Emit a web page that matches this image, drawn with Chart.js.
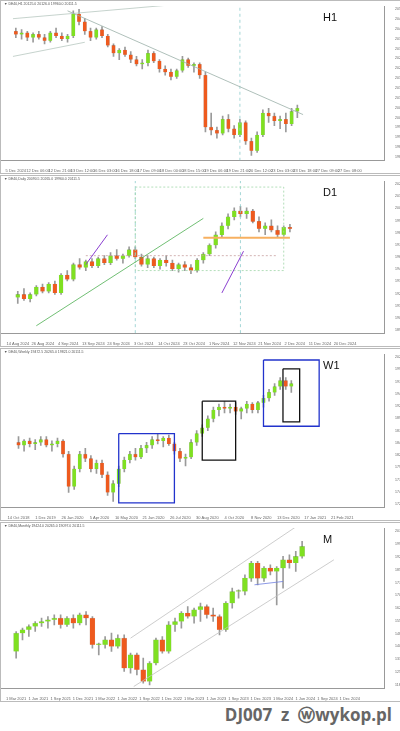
<!DOCTYPE html>
<html>
<head>
<meta charset="utf-8">
<script src="https://cdn.jsdelivr.net/npm/chart.js@4.4.0/dist/chart.umd.min.js"></script>
<style>
  body { margin:0; background:#fff; width:400px; height:731px; overflow:hidden; font-family:"DejaVu Sans",sans-serif; }
  .panel { position:absolute; left:0; width:399px; border:1px solid #bbb; background:#fff; }
  .panel canvas { position:absolute; left:0; top:0; }
  .tf { position:absolute; left:322px; top:10px; font:11px "Liberation Sans",sans-serif; color:#111; }
  .title { position:absolute; left:3px; top:1px; font:3.5px sans-serif; color:#555; white-space:nowrap; }
  .foot { position:absolute; right:8px; top:703px; font:bold 17px "Open Sans",sans-serif; color:#666; }
</style>
</head>
<body>
<div class="panel" style="top:0;height:172px"><canvas id="h1"></canvas><div class="title">▼ DE40,H1 20125.0 20126.0 19960.0 20111.5</div><div class="tf">H1</div></div>
<div class="panel" style="top:175px;height:170px"><canvas id="d1"></canvas><div class="title">▼ DE40,Daily 20090.5 20265.0 19960.0 20111.5</div><div class="tf">D1</div></div>
<div class="panel" style="top:348px;height:171px"><canvas id="w1"></canvas><div class="title">▼ DE40,Weekly 19472.5 20265.0 19821.0 20111.5</div><div class="tf">W1</div></div>
<div class="panel" style="top:522px;height:178px"><canvas id="mn"></canvas><div class="title">▼ DE40,Monthly 19424.0 20265.0 19097.0 20111.5</div><div class="tf">M</div></div>
<div class="foot">DJ007 &nbsp;z &nbsp;ⓦwykop.pl</div>
<script>
// candles [open, high, low, close] in chart units
const h1Candles = [[84,86,80,82],[82,85,79,83],[83,84,78,80],[80,83,77,82],[82,84,79,80],[80,82,76,78],[78,84,77,83],[83,86,80,81],[81,83,78,79],[79,82,77,81],
 [81,97,80,95],[95,98,88,90],[90,92,82,84],[84,86,78,80],[80,86,79,85],[85,87,80,81],[81,82,74,75],[75,76,68,70],[70,73,66,72],[72,74,68,69],
 [69,71,64,66],[66,68,62,63],[63,66,60,64],[64,72,62,70],[70,71,64,65],[65,66,58,60],[60,62,56,58],[58,60,53,55],[55,60,54,59],[59,68,58,66],
 [66,67,61,62],[62,64,58,63],[63,64,54,56],[56,58,20,23],[23,32,18,21],[21,23,16,19],[19,30,18,28],[28,31,20,22],[22,24,16,18],[18,28,17,26],
 [26,27,12,14],[14,16,5,8],[8,20,7,18],[18,34,17,32],[32,35,26,30],[30,32,24,27],[27,30,22,28],[28,32,20,25],[25,35,24,33],[33,37,29,35]];
const d1Candles = [[22,26,18,24],[24,28,20,21],[21,25,19,24],[24,30,23,29],[29,31,25,26],[26,32,25,31],[31,33,24,25],[25,38,24,37],[37,40,33,34],[34,45,33,44],
 [44,48,41,42],[42,47,40,46],[46,48,42,43],[43,49,42,48],[48,50,44,45],[45,52,44,50],[50,54,47,48],[48,51,45,50],[50,56,49,54],[54,56,48,49],
 [49,51,43,44],[44,50,42,48],[48,49,42,43],[43,48,41,47],[47,50,43,45],[45,47,40,41],[41,45,39,44],[44,46,40,42],[42,44,38,40],[40,48,39,47],
 [47,52,45,51],[51,58,50,57],[57,66,55,64],[64,72,62,70],[70,78,68,76],[76,82,74,80],[80,83,76,78],[78,82,75,80],[80,81,72,73],[73,76,66,68],
 [68,72,64,70],[70,74,66,67],[67,70,62,64],[64,70,63,69],[69,71,66,68]];
const w1Candles = [[46,50,42,44],[44,48,40,47],[47,49,43,45],[45,48,41,46],[46,50,44,48],[48,50,43,44],[44,47,40,45],[45,49,43,47],[47,48,36,38],[38,40,12,16],
 [16,30,14,28],[28,40,26,38],[38,42,33,35],[35,37,26,28],[28,34,25,32],[32,34,22,24],[24,26,10,12],[12,20,6,18],[18,30,16,28],[28,36,26,34],
 [34,40,32,38],[38,42,34,36],[36,44,35,42],[42,46,39,44],[44,50,42,48],[48,52,45,47],[47,50,43,49],[49,51,44,45],[45,46,38,40],[40,42,33,35],
 [35,38,30,36],[36,48,35,46],[46,54,44,52],[52,58,50,56],[56,64,54,62],[62,70,60,68],[68,72,64,70],[70,74,66,69],[69,72,66,70],[70,73,65,67],
 [67,70,62,69],[69,74,66,72],[72,73,66,68],[68,74,66,73],[73,78,70,76],[76,82,74,80],[80,86,78,84],[84,90,82,88],[88,90,82,84],[84,88,80,86]];
const mnCandles = [[26,38,22,37],[37,40,33,39],[39,42,35,41],[41,44,38,43],[43,46,41,44],[44,47,40,45],[45,48,42,46],[46,48,40,42],[42,47,41,46],[46,48,40,43],
 [43,49,42,48],[48,50,42,46],[46,47,28,30],[30,31,24,30],[30,35,28,33],[33,37,26,29],[29,36,28,34],[34,36,14,16],[16,25,13,24],[24,25,12,15],
 [15,22,7,8],[8,20,6,19],[19,34,18,33],[33,35,25,26],[26,44,25,42],[42,46,38,44],[44,50,40,49],[49,53,46,47],[47,52,43,51],[51,55,44,53],
 [53,54,46,48],[48,52,44,47],[47,48,36,39],[39,56,38,55],[55,64,52,62],[62,63,58,62],[62,72,60,70],[70,80,68,79],[79,80,66,70],[70,77,68,76],
 [76,78,72,74],[74,77,54,76],[76,83,64,81],[81,84,76,79],[79,86,74,83],[83,92,82,89]];

const h1Ticks = ['19833.0','19877.5','19922.0','19966.5','20011.0','20055.5','20100.0','20144.5','20189.0','20233.5','20278.0','20322.5','20367.0','20411.5','20456.0','20500.5'];
const d1Ticks = ['18940.0','19050.5','19161.0','19271.5','19382.0','19492.5','19603.0','19713.5','19824.0','19934.5','20045.0','20155.5','20266.0'];
const w1Ticks = ['17220.0','17470.0','17720.0','17970.0','18220.0','18470.0','18720.0','18970.0','19220.0','19470.0','19720.0','19970.0','20220.0'];
const mnTicks = ['11840.0','12580.0','13320.0','14060.0','14800.0','15540.0','16280.0','17020.0','17760.0','18500.0','19240.0','19980.0','20720.0'];

const h1Dates = ['5 Dec 2024','12 Dec 06:00','12 Dec 21:00','13 Dec 12:00','16 Dec 03:00','16 Dec 18:00','17 Dec 09:00','18 Dec 00:00','18 Dec 15:00','19 Dec 06:00','19 Dec 21:00','20 Dec 12:00','23 Dec 03:00','23 Dec 18:00','27 Dec 09:00','27 Dec 08:00'];
const d1Dates = ['14 Aug 2024','26 Aug 2024','4 Sep 2024','13 Sep 2024','24 Sep 2024','3 Oct 2024','14 Oct 2024','23 Oct 2024','1 Nov 2024','12 Nov 2024','21 Nov 2024','2 Dec 2024','11 Dec 2024','20 Dec 2024'];
const w1Dates = ['14 Oct 2018','1 Dec 2019','26 Jan 2020','5 Apr 2020','10 May 2020','21 Jun 2020','26 Jul 2020','30 Aug 2020','4 Oct 2020','8 Nov 2020','13 Dec 2020','17 Jan 2021','21 Feb 2021'];
const mnDates = ['1 Mar 2021','1 Jun 2021','1 Sep 2021','1 Dec 2021','1 Mar 2022','1 Jun 2022','1 Sep 2022','1 Dec 2022','1 Mar 2023','1 Jun 2023','1 Sep 2023','1 Dec 2023','1 Mar 2024','1 Jun 2024','1 Sep 2024','1 Dec 2024'];

const UP = '#7fe021', DOWN = '#ee5a1e', WICK = '#9a9a9a';

function lineDs(points, color, dash, width) {
  return { type:'line', data:points, borderColor:color, borderWidth:width||0.8, borderDash:dash||[], pointRadius:0, fill:false, order:0 };
}

function drawPanel(id, h, candles, xMax, yMin, yMax, ticks, dates, bodyW, extras) {
  const cv = document.getElementById(id);
  cv.width = 399; cv.height = h;
  const cols = candles.map(c => c[3] >= c[0] ? UP : DOWN);
  const datasets = [
    { type:'bar', data:candles.map((c,i)=>({x:i, y:[c[2],c[1]]})), backgroundColor:WICK, barThickness:1, grouped:false, order:2 },
    { type:'bar', data:candles.map((c,i)=>({x:i, y:[c[0],c[3]]})), backgroundColor:cols, borderColor:'rgba(0,0,0,0.25)', borderWidth:0.3, barThickness:bodyW, minBarLength:1, grouped:false, order:1 }
  ].concat(extras);
  const n = ticks.length;
  const step = xMax / dates.length;
  new Chart(cv, {
    data:{ datasets },
    options:{
      responsive:false, animation:false,
      layout:{ padding:{ top:2, left:0, right:0, bottom:0 } },
      plugins:{ legend:{display:false}, tooltip:{enabled:false} },
      scales:{
        x:{ type:'linear', min:-0.5, max:xMax, grid:{display:false},
            afterBuildTicks:(s)=>{ s.ticks = dates.map((d,i)=>({value:i*step})); },
            ticks:{ font:{size:4}, color:'#666', padding:0, maxRotation:0, minRotation:0, autoSkip:false,
                    callback:(v,i)=> dates[i] },
            border:{color:'#999'} },
        y:{ position:'right', min:yMin, max:yMax, grid:{display:false},
            afterBuildTicks:(s)=>{ s.ticks = ticks.map((t,i)=>({value:yMin + 2 + i*(yMax-yMin-4)/(n-1)})); },
            ticks:{ font:{size:3.5}, color:'#666', callback:(v,i)=> ticks[i] },
            afterFit:(s)=>{ s.width = 16; },
            border:{color:'#999'} }
      }
    }
  });
}

drawPanel('h1', 172, h1Candles, 62, 2, 100, h1Ticks, h1Dates, 3.5, [
  lineDs([{x:9,y:97},{x:50,y:31}], '#9ab0a8'),
  lineDs([{x:-0.5,y:92},{x:34,y:103}], '#b8c8c0'),
  lineDs([{x:-0.5,y:68},{x:12,y:77}], '#b8c8c0'),
  lineDs([{x:39,y:-6},{x:39,y:106}], '#8ccccc', [3,3])
]);
drawPanel('d1', 170, d1Candles, 57, -2, 100, d1Ticks, d1Dates, 4, [
  lineDs([{x:3,y:3},{x:30,y:75}], '#4caf50'),
  lineDs([{x:11,y:44},{x:14.5,y:64}], '#8a3fd0', [], 1),
  lineDs([{x:33,y:25},{x:36.5,y:53}], '#8a3fd0', [], 1),
  lineDs([{x:30,y:62},{x:44,y:62}], '#f7b060', [], 2),
  lineDs([{x:19,y:96},{x:43,y:96},{x:43,y:40},{x:19,y:40},{x:19,y:96}], '#9fd6a8', [2,2]),
  lineDs([{x:19,y:-6},{x:19,y:106}], '#8ccccc', [3,3]),
  lineDs([{x:36,y:-6},{x:36,y:106}], '#8ccccc', [3,3]),
  lineDs([{x:11,y:50},{x:42,y:50}], '#c8a0a0', [2,2])
]);
drawPanel('w1', 171, w1Candles, 63, 2, 106, w1Ticks, w1Dates, 3.5, [
  lineDs([{x:18,y:52},{x:28,y:52},{x:28,y:5},{x:18,y:5},{x:18,y:52}], '#2233cc', [], 1.3),
  lineDs([{x:33,y:74},{x:39,y:74},{x:39,y:34},{x:33,y:34},{x:33,y:74}], '#111', [], 1.3),
  lineDs([{x:44,y:102},{x:54,y:102},{x:54,y:57},{x:44,y:57},{x:44,y:102}], '#2233cc', [], 1.3),
  lineDs([{x:47.5,y:96},{x:50.5,y:96},{x:50.5,y:60},{x:47.5,y:60},{x:47.5,y:96}], '#111', [], 1.3)
]);
drawPanel('mn', 178, mnCandles, 56, 4, 100, mnTicks, mnDates, 5, [
  lineDs([{x:18,y:34},{x:44.5,y:102}], '#c0c0c0'),
  lineDs([{x:18.5,y:5},{x:50,y:81}], '#c0c0c0'),
  lineDs([{x:37.5,y:66},{x:42,y:68}], '#7080e0')
]);
</script>
</body>
</html>
